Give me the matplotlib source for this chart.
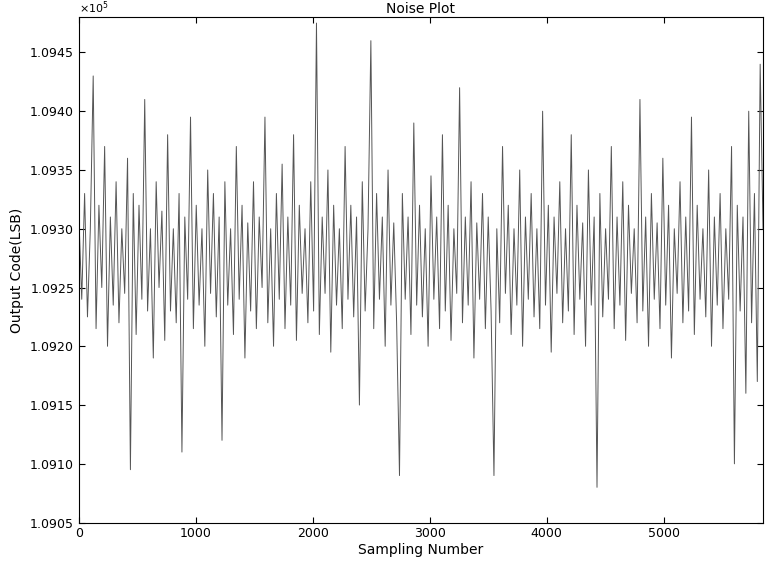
import numpy as np
import matplotlib
matplotlib.use("Agg")
import matplotlib.pyplot as plt
from matplotlib.ticker import ScalarFormatter

codes = [
    109310, 109240, 109330, 109225, 109300, 109430, 109215, 109320, 109250, 109370, 109200, 109310, 109235, 109340, 109220, 109300, 109245, 109360, 109095, 109330,
    109210, 109320, 109240, 109410, 109230, 109300, 109190, 109340, 109250, 109315, 109205, 109380, 109230, 109300, 109220, 109330, 109110, 109310, 109240, 109395,
    109215, 109320, 109235, 109300, 109200, 109350, 109245, 109330, 109225, 109310, 109120, 109340, 109235, 109300, 109210, 109370, 109240, 109320, 109190, 109305,
    109230, 109340, 109215, 109310, 109250, 109395, 109220, 109300, 109200, 109330, 109240, 109355, 109215, 109310, 109235, 109380, 109205, 109320, 109245, 109300,
    109220, 109340, 109230, 109475, 109210, 109310, 109245, 109350, 109195, 109320, 109235, 109300, 109215, 109370, 109240, 109320, 109225, 109310, 109150, 109340,
    109230, 109300, 109460, 109215, 109330, 109240, 109310, 109200, 109350, 109235, 109305, 109220, 109090, 109330, 109240, 109310, 109210, 109390, 109235, 109320,
    109225, 109300, 109200, 109345, 109240, 109310, 109215, 109380, 109230, 109320, 109205, 109300, 109245, 109420, 109220, 109310, 109235, 109340, 109190, 109305,
    109240, 109330, 109215, 109310, 109230, 109090, 109300, 109220, 109370, 109245, 109320, 109210, 109300, 109235, 109350, 109200, 109310, 109240, 109330, 109225,
    109300, 109215, 109400, 109235, 109320, 109195, 109310, 109245, 109340, 109220, 109300, 109230, 109380, 109210, 109320, 109240, 109305, 109200, 109350, 109235,
    109310, 109080, 109330, 109225, 109300, 109240, 109370, 109215, 109310, 109235, 109340, 109205, 109320, 109245, 109300, 109220, 109410, 109230, 109310, 109200,
    109330, 109240, 109305, 109215, 109360, 109235, 109320, 109190, 109300, 109245, 109340, 109220, 109310, 109230, 109395, 109210, 109320, 109240, 109300, 109225,
    109350, 109200, 109310, 109235, 109330, 109215, 109300, 109240, 109370, 109100, 109320, 109230, 109310, 109160, 109400, 109220, 109330, 109170, 109440, 109300,
]
n_samples = 5850
samples = np.linspace(0, n_samples, len(codes))

fig = plt.figure(figsize=(7.81, 5.73), dpi=100)
ax = fig.add_axes([0.101, 0.088, 0.876, 0.882])
ax.plot(samples, codes, color="#555555", linewidth=0.7)

ax.set_xlim(0, n_samples)
ax.set_ylim(109050, 109480)
ax.set_yticks(np.arange(109050, 109451, 50))
ax.set_xticks(np.arange(0, 5001, 1000))
fmt = ScalarFormatter(useOffset=False, useMathText=True)
fmt.set_powerlimits((0, 0))
ax.yaxis.set_major_formatter(fmt)
ax.tick_params(direction="in", top=True, right=True, labelsize=9, length=4)
ax.set_title("Noise Plot", fontsize=10, pad=3)
ax.set_xlabel("Sampling Number", fontsize=10, labelpad=2)
ax.set_ylabel("Output Code(LSB)", fontsize=10, labelpad=4)
ax.yaxis.get_offset_text().set_fontsize(8)

fig.savefig("out.png", dpi=100)
